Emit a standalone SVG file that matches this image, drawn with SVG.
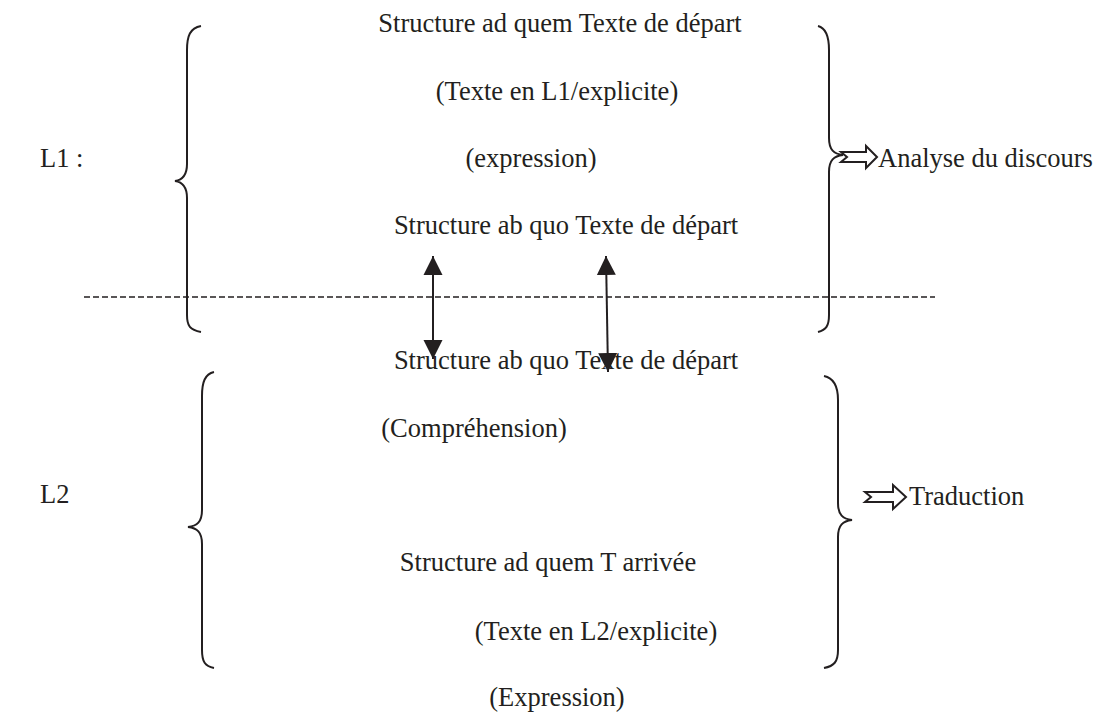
<svg xmlns="http://www.w3.org/2000/svg" width="1098" height="715" viewBox="0 0 1098 715">
<style>
text{font-family:"Liberation Serif","Times New Roman",serif;font-size:26.5px;fill:#231f20}
.br{fill:none;stroke:#231f20;stroke-width:2}
.ln{stroke:#231f20;stroke-width:2;fill:none}
.ha{fill:#fff;stroke:#231f20;stroke-width:2;stroke-linejoin:miter}
</style>
<defs>
<marker id="ah" viewBox="0 0 10 10" refX="10" refY="5" markerWidth="9.5" markerHeight="10" orient="auto-start-reverse" markerUnits="strokeWidth"><path d="M0,0 L10,5 L0,10 z" fill="#231f20"/></marker>
</defs>
<rect width="1098" height="715" fill="#fff"/>
<g id="connectors">
<line x1="84" y1="297" x2="935" y2="297" stroke="#231f20" stroke-width="1.3" stroke-dasharray="6,3"/>
<line class="ln" x1="433" y1="256" x2="433" y2="359" marker-start="url(#ah)" marker-end="url(#ah)"/>
<line class="ln" x1="606" y1="256" x2="608" y2="372" marker-start="url(#ah)" marker-end="url(#ah)"/>
</g>
<g id="L1">
<text x="40" y="167">L1 :</text>
<path class="br" d="M201,26 C190,28 187,36 187,50 L187,164 C187,176 182,180 175,181 C182,182 187,186 187,198 L187,315 C187,326 190,330 201,332"/>
<path class="br" d="M818,26 C826,28 829,36 829,50 L829,138 C829,150 834,154 843,155 C834,156 829,160 829,172 L829,315 C829,326 826,330 818,332"/>
</g>
<g id="L1-texts">
<text x="560" y="32" text-anchor="middle">Structure ad quem Texte de départ</text>
<text x="557" y="100" text-anchor="middle">(Texte en L1/explicite)</text>
<text x="531" y="167" text-anchor="middle">(expression)</text>
<text x="566" y="234" text-anchor="middle">Structure ab quo Texte de départ</text>
</g>
<g id="analyse">
<path class="ha" d="M841,152 L866,152 L866,146 L877,157 L866,168 L866,162 L841,162 L847,157 Z"/>
<text x="878" y="167">Analyse du discours</text>
</g>
<g id="L2">
<text x="40" y="503">L2</text>
<path class="br" d="M214,372 C205,374 202,382 202,396 L202,510 C202,522 197,526 188,527 C197,528 202,532 202,544 L202,650 C202,662 205,666 214,668"/>
<path class="br" d="M824,376 C834,378 838,386 838,400 L838,503 C838,515 843,519 852,520 C843,521 838,525 838,537 L838,650 C838,662 834,666 824,668"/>
</g>
<g id="L2-texts">
<text x="566" y="369" text-anchor="middle">Structure ab quo Texte de départ</text>
<text x="474" y="437" text-anchor="middle">(Compréhension)</text>
<text x="548" y="571" text-anchor="middle">Structure ad quem T arrivée</text>
<text x="596" y="640" text-anchor="middle">(Texte en L2/explicite)</text>
<text x="557" y="706" text-anchor="middle">(Expression)</text>
</g>
<g id="traduction">
<path class="ha" d="M865,492 L893,492 L893,485 L906,497 L893,509 L893,502 L865,502 L871,497 Z"/>
<text x="909" y="505">Traduction</text>
</g>
</svg>
